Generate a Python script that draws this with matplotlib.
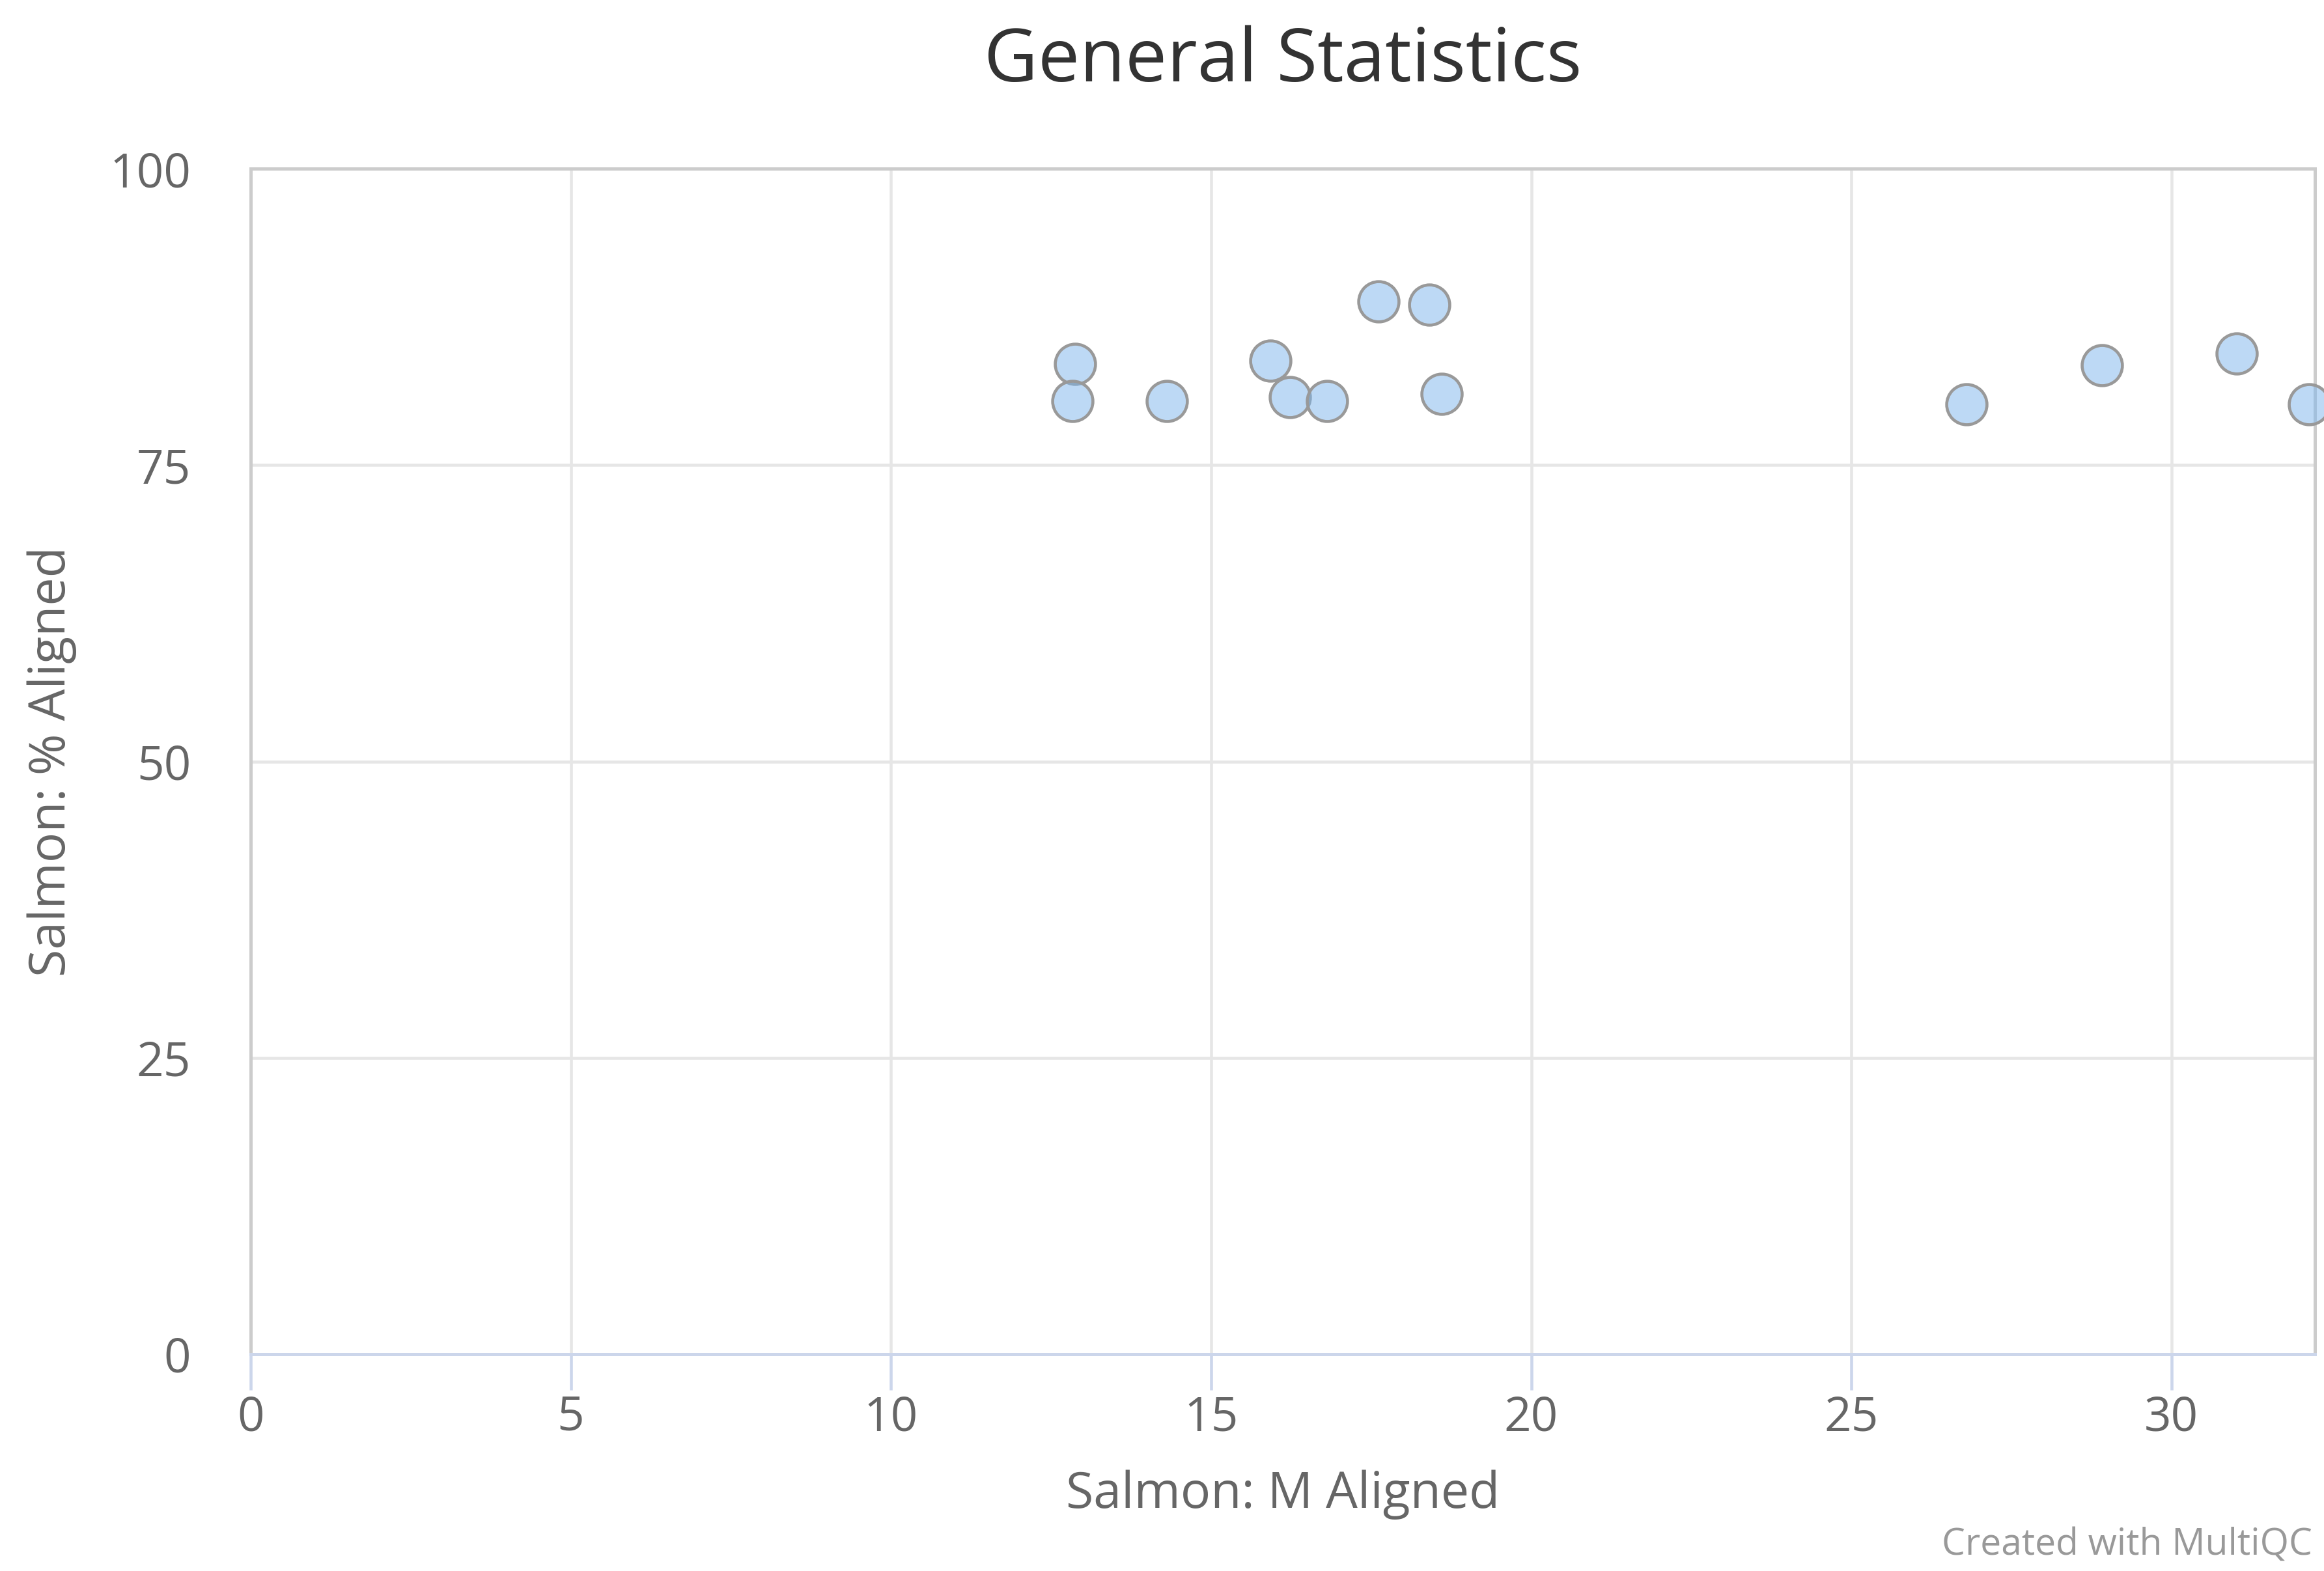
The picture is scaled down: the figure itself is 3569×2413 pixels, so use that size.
import numpy as np
import matplotlib
matplotlib.use("Agg")
import matplotlib.pyplot as plt

# Salmon values
m_aligned = [12.88, 12.83, 14.31, 15.93, 16.23, 16.81, 17.61, 18.41, 18.60, 26.80, 28.91, 31.02, 32.15]
pct_aligned = [83.5, 80.4, 80.4, 83.8, 80.7, 80.4, 88.8, 88.5, 81.0, 80.1, 83.4, 84.4, 80.1]
x_ticks = [0, 5, 10, 15, 20, 25, 30]
y_ticks = [0, 25, 50, 75, 100]

plt.rcParams['font.family'] = ['Open Sans', 'DejaVu Sans']

W, H = 3569, 2413
fig = plt.figure(figsize=(W/300, H/300), dpi=300)
ax = fig.add_axes([385/W, 1-2080/H, (3555-385)/W, (2080-259)/H])

ax.scatter(m_aligned, pct_aligned, s=220, facecolor=(124/255, 181/255, 236/255, 0.5),
           edgecolor='#999999', linewidth=1.1, zorder=5, clip_on=False)

ax.set_xlim(0, 32.24)
ax.set_ylim(0, 100)
ax.set_xticks(x_ticks)
ax.set_yticks(y_ticks)
ax.grid(True, color='#e6e6e6', linewidth=1.1, zorder=0)
ax.set_axisbelow(True)

for side in ['top', 'left', 'right']:
    ax.spines[side].set_color('#cccccc')
    ax.spines[side].set_linewidth(1.2)
ax.spines['bottom'].set_color('#ccd6eb')
ax.spines['bottom'].set_linewidth(1.2)

ax.tick_params(axis='x', length=13.2, width=1.1, color='#ccd6eb', pad=1.5,
               labelsize=17.5, labelcolor='#666666')
ax.tick_params(axis='y', length=0, pad=22, labelsize=17.5, labelcolor='#666666')

cx = (385 + 3555) / 2 / W
fig.text(cx, 1-125/H, 'General Statistics', ha='center', va='baseline',
         fontsize=27.4, color='#333333')
fig.text(cx, 1-2316/H, 'Salmon: M Aligned', ha='center', va='baseline',
         fontsize=18.5, color='#666666')
fig.text(80/W, 1-1170/H, 'Salmon: % Aligned', ha='center', va='center',
         rotation=90, fontsize=18.5, color='#666666')
fig.text(3551/W, 1-2388/H, 'Created with MultiQC', ha='right', va='baseline',
         fontsize=13.7, color='#999999')

fig.savefig('out.png', dpi=300, facecolor='white')
